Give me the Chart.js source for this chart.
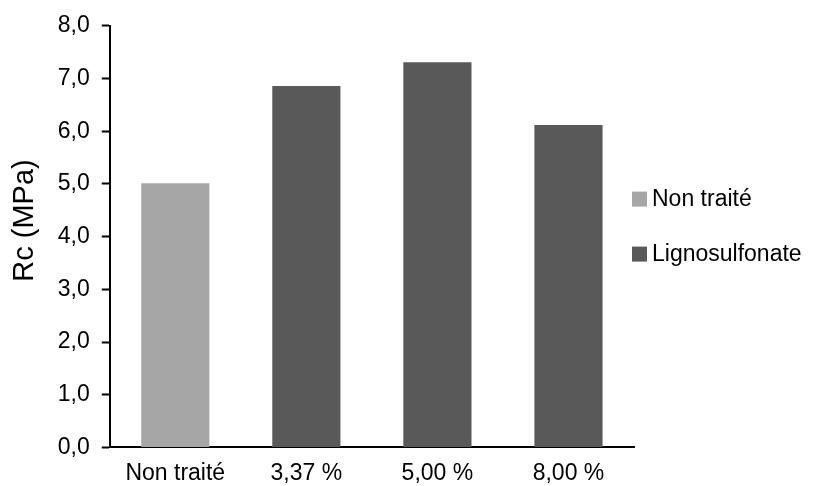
<!DOCTYPE html>
<html>
<head>
<meta charset="utf-8">
<script src="https://cdn.jsdelivr.net/npm/chart.js@4"></script>
<style>
  html, body { margin: 0; padding: 0; background: #fff; }
  #wrap { width: 814px; height: 486px; }
</style>
</head>
<body>
<div id="wrap"><canvas id="myChart"></canvas></div>
<script>
const categories = ["Non traité", "3,37 %", "5,00 %", "8,00 %"];
const nonTraite = [5.01, null, null, null];
const lignosulfonate = [null, 6.86, 7.31, 6.12];
const yTicks = [0, 1, 2, 3, 4, 5, 6, 7, 8];

const ctx = document.getElementById("myChart").getContext("2d");
Chart.defaults.font.family = "'Liberation Sans', Arial, sans-serif";
Chart.defaults.color = "#000";

// leyenda dibujada a mano (a la derecha, cuadro pegado al texto)
const sideLegend = {
  id: "sideLegend",
  afterDraw(chart) {
    const c = chart.ctx;
    const area = chart.chartArea;
    const mid = (area.top + area.bottom) / 2;
    c.save();
    c.font = "23px 'Liberation Sans', Arial, sans-serif";
    c.textBaseline = "middle";
    chart.data.datasets.forEach((ds, i) => {
      const y = mid - 38 + i * 55;
      c.fillStyle = ds.backgroundColor;
      c.fillRect(area.right - 2, y - 7, 15, 15);
      c.fillStyle = "#000";
      c.fillText(ds.label, area.right + 18, y + 1);
    });
    c.restore();
  },
};

const config = {
  type: "bar",
  data: {
    labels: categories,
    datasets: [
      {
        label: "Non traité",
        data: nonTraite,
        backgroundColor: "#a6a6a6",
        borderWidth: 0,
      },
      {
        label: "Lignosulfonate",
        data: lignosulfonate,
        backgroundColor: "#595959",
        borderWidth: 0,
      },
    ],
  },
  options: {
    responsive: true,
    maintainAspectRatio: false,
    animation: false,
    layout: { padding: { top: 12, left: 8, right: 180, bottom: -13 } },
    datasets: {
      bar: { grouped: false, categoryPercentage: 1, barPercentage: 0.52 },
    },
    scales: {
      x: {
        grid: { display: false, drawTicks: false },
        border: { color: "#000", width: 2 },
        ticks: { font: { size: 23 }, padding: 12 },
      },
      y: {
        min: 0,
        max: 8,
        afterBuildTicks: (axis) => { axis.ticks = yTicks.map((v) => ({ value: v })); },
        grid: { display: true, drawOnChartArea: false, tickLength: 8, color: "#000", tickWidth: 2 },
        border: { color: "#000", width: 2 },
        ticks: {
          font: { size: 23 },
          padding: 12,
          callback: (v) => v.toFixed(1).replace(".", ","),
        },
        title: {
          display: true,
          text: "    Rc (MPa)",
          font: { size: 29 },
          padding: { top: 0, bottom: 3 },
        },
      },
    },
    plugins: {
      legend: { display: false },
      tooltip: { enabled: false },
    },
  },
  plugins: [sideLegend],
};

const myChart = new Chart(ctx, config);
</script>
</body>
</html>
